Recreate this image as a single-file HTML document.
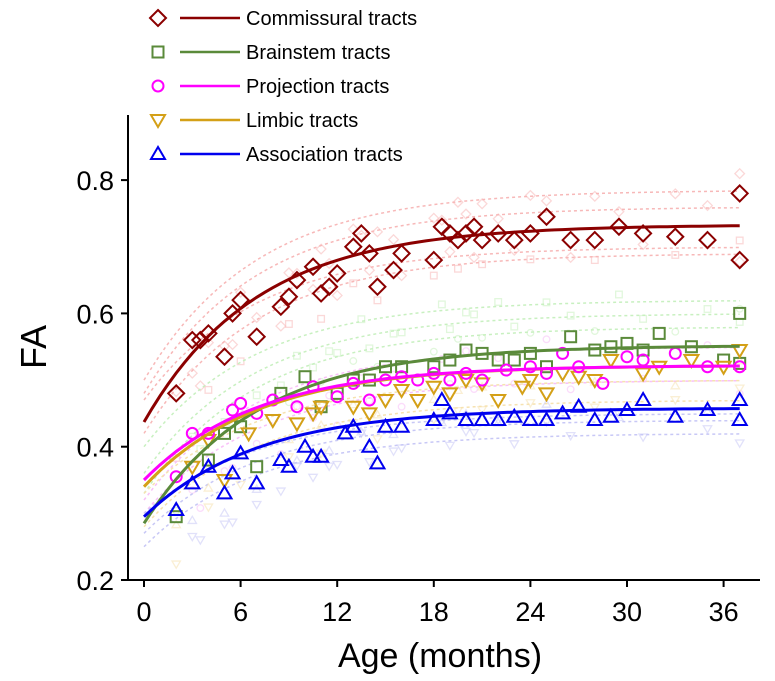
<!DOCTYPE html>
<html><head><meta charset="utf-8"><style>
body{margin:0;background:#fff;}
svg{display:block;font-family:"Liberation Sans",sans-serif;}
</style></head><body>
<svg id="chart" width="775" height="681" viewBox="0 0 775 681" xmlns="http://www.w3.org/2000/svg"></svg>
<script>
// ---- data ----
const xTicks = [0, 6, 12, 18, 24, 30, 36];
const yTicks = [0.2, 0.4, 0.6, 0.8];
const seriesNames = ["Commissural tracts","Brainstem tracts","Projection tracts","Limbic tracts","Association tracts"];
const curveStart = [0.437, 0.285, 0.35, 0.34, 0.295];
const curveAsym = [0.733, 0.552, 0.522, 0.522, 0.458];
const curveTau = [7, 7, 7, 7, 7];
const commAges = [2,3,3.5,4,5,5.5,6,7,8.5,9,9.5,10.5,11,11.5,12,13,13.5,14,14.5,15.5,16,18,18.5,19,19.5,20,20.5,21,22,23,24,25,26.5,28,29.5,31,33,35,37,37];
const commVals = [0.48,0.56,0.56,0.57,0.535,0.6,0.62,0.565,0.61,0.625,0.65,0.67,0.63,0.64,0.66,0.7,0.72,0.69,0.64,0.665,0.69,0.68,0.73,0.72,0.71,0.72,0.73,0.71,0.72,0.71,0.72,0.745,0.71,0.71,0.73,0.72,0.715,0.71,0.68,0.78];
const brainAges = [2,4,5,6,7,8.5,10,11,12,13,14,15,16,18,19,20,21,22,23,24,25,26.5,28,29,30,31,32,34,36,37,37];
const brainVals = [0.295,0.38,0.42,0.43,0.37,0.48,0.505,0.46,0.48,0.5,0.5,0.52,0.52,0.52,0.53,0.545,0.54,0.53,0.53,0.54,0.52,0.565,0.545,0.55,0.555,0.545,0.57,0.55,0.53,0.6,0.525];
const projAges = [2,3,4,5.5,6,7,8,9.5,10.5,12,13,14,15,16,17,18,19,20,21,22.5,24,25,26,27,28.5,30,31,33,35,37];
const projVals = [0.355,0.42,0.42,0.455,0.465,0.45,0.47,0.46,0.49,0.475,0.495,0.47,0.5,0.505,0.5,0.51,0.5,0.51,0.5,0.515,0.52,0.51,0.54,0.52,0.495,0.535,0.53,0.54,0.52,0.52];
const limbAges = [3,4,5,6.5,8,9.5,10.5,11,13,14,15,16,17,18,19,20,21,22,23.5,24,25,26,27,28,29,31,32,34,36,37];
const limbVals = [0.37,0.41,0.35,0.42,0.44,0.435,0.45,0.46,0.46,0.45,0.47,0.485,0.47,0.49,0.48,0.5,0.495,0.47,0.49,0.5,0.48,0.51,0.505,0.5,0.53,0.51,0.52,0.53,0.52,0.545];
const assocAges = [2,3,4,5,5.5,6,7,8.5,9,10,10.5,11,12.5,13,14,14.5,15,16,18,18.5,19,20,21,22,23,24,25,26,27,28,29,30,31,33,35,37,37];
const assocVals = [0.305,0.345,0.37,0.33,0.36,0.39,0.345,0.38,0.37,0.4,0.385,0.385,0.42,0.43,0.4,0.375,0.43,0.43,0.44,0.47,0.45,0.44,0.44,0.44,0.445,0.44,0.44,0.45,0.46,0.44,0.445,0.455,0.47,0.445,0.455,0.47,0.44];
const faintStart = [0.5,0.48,0.47,0.42,0.4,0.36,0.33,0.32,0.3,0.28,0.27,0.25,0.33,0.3];
const faintAsym  = [0.785,0.76,0.7,0.69,0.62,0.6,0.58,0.55,0.5,0.47,0.44,0.42,0.5,0.45];
const faintColor = ["#f7b8b8","#f7b8b8","#f7b8b8","#f7b8b8","#c8f0c0","#c8f0c0","#c8f0c0","#f8c0f8","#f8c0f8","#f6e2b0","#c8c8f6","#c8c8f6","#f6e2b0","#c8c8f6"];

// ---- layout ----
const X0 = 144, PX = 16.1;
const x = a => X0 + a * PX;
const y = v => 580 - (v - 0.2) / 0.2 * 133.3;
const svg = document.getElementById('chart');
const NS = 'http://www.w3.org/2000/svg';
function mk(tag, attrs, parent) {
  const e = document.createElementNS(NS, tag);
  for (const k in attrs) e.setAttribute(k, attrs[k]);
  (parent || svg).appendChild(e);
  return e;
}
const colors = ["#8b0000","#5a8a3a","#ff00ff","#d4a017","#0000ee"];
const markers = ["diamond","square","circle","tridown","triup"];
function marker(kind, cx, cy, col, parent, op, s) {
  s = s || 1;
  let e;
  const a = {fill:'none', stroke:col, 'stroke-width': s < 1 ? 1.3 : 2};
  if (op) a.opacity = op;
  const d8 = 8*s, d7 = 7*s, d5 = 5*s, d55 = 5.5*s;
  if (kind === 'diamond') e = mk('polygon', Object.assign({points:`${cx},${cy-d8} ${cx+d8},${cy} ${cx},${cy+d8} ${cx-d8},${cy}`}, a), parent);
  else if (kind === 'square') e = mk('rect', Object.assign({x:cx-d55, y:cy-d55, width:2*d55, height:2*d55}, a), parent);
  else if (kind === 'circle') e = mk('circle', Object.assign({cx, cy, r:d55}, a), parent);
  else if (kind === 'tridown') e = mk('polygon', Object.assign({points:`${cx-d7},${cy-d5} ${cx+d7},${cy-d5} ${cx},${cy+d7}`}, a), parent);
  else e = mk('polygon', Object.assign({points:`${cx-d7},${cy+d5} ${cx+d7},${cy+d5} ${cx},${cy-d7}`}, a), parent);
  return e;
}
function curvePath(s, a, tau) {
  let d = '';
  for (let t = 0; t <= 37; t += 0.5) {
    const v = a - (a - s) * Math.exp(-t / tau);
    d += (t === 0 ? 'M' : 'L') + x(t).toFixed(1) + ',' + y(v).toFixed(1);
  }
  return d;
}

const fg = mk('g', {});


faintStart.forEach((s, i) => {
  const p = mk('path', {d: curvePath(s, faintAsym[i], 7), fill:'none', stroke:faintColor[i], 'stroke-width':1.5, 'stroke-dasharray':'3,3'}, fg);
  
  
  commAges.forEach((t, j) => {
    if (j % 3 !== i % 3) return;
    const v = faintAsym[i] - (faintAsym[i] - s) * Math.exp(-t / 7) + (commVals[j] - 0.72 + 0.02 * Math.cos(j + i)) * 0.4;
    const m = marker(markers[Math.min(4, Math.floor(i / 3))], x(t), y(v), faintColor[i], fg, 0.55, 0.6);
    
    
  });
});

const ax = mk('g', {stroke:'#000', 'stroke-width':2});


mk('line', {x1:128, y1:115, x2:128, y2:581}, ax);
mk('line', {x1:127, y1:580, x2:760, y2:580}, ax);
xTicks.forEach(t => {
  mk('line', {x1:x(t), y1:580, x2:x(t), y2:587}, ax);
  const tx = mk('text', {x:x(t), y:621, 'font-size':27, 'text-anchor':'middle', fill:'#000', stroke:'none'});
  tx.textContent = t;
  
  
});
yTicks.forEach(v => {
  mk('line', {x1:121, y1:y(v), x2:128, y2:y(v)}, ax);
  const tx = mk('text', {x:114, y:y(v)+10, 'font-size':27, 'text-anchor':'end', fill:'#000', stroke:'none'});
  tx.textContent = v.toFixed(1);
  
  
});
const xt = mk('text', {x:440, y:667, 'font-size':34, 'text-anchor':'middle', fill:'#000'});
xt.textContent = 'Age (months)';


const yt = mk('text', {x:0, y:0, 'font-size':36, 'text-anchor':'middle', fill:'#000', transform:'translate(46,347) rotate(-90)'});
yt.textContent = 'FA';



const allAges = [commAges, brainAges, projAges, limbAges, assocAges];
const allVals = [commVals, brainVals, projVals, limbVals, assocVals];
const order = [0, 1, 3, 2, 4];
order.forEach(i => {
  const g = mk('g', {});
  
  
  allAges[i].forEach((t, j) => {
    const m = marker(markers[i], x(t), y(allVals[i][j]), colors[i], g);
    
    
  });
});
order.forEach(i => {
  const p = mk('path', {d: curvePath(curveStart[i], curveAsym[i], curveTau[i]), fill:'none', stroke:colors[i], 'stroke-width':3});
  
  
});

const lg = mk('g', {});


seriesNames.forEach((n, i) => {
  const yy = 18 + i * 34;
  const e = mk('g', {}, lg);
  
  
  marker(markers[i], 158, yy, colors[i], e);
  mk('line', {x1:180, y1:yy, x2:240, y2:yy, stroke:colors[i], 'stroke-width':2.5}, e);
  const t = mk('text', {x:246, y:yy+7, 'font-size':20, fill:'#000'}, e);
  t.textContent = n;
});
</script>
</body></html>
